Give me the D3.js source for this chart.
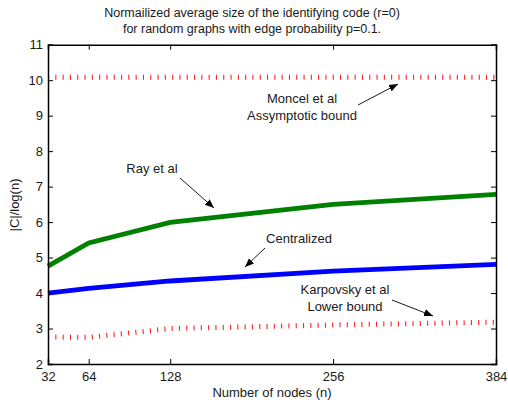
<!DOCTYPE html>
<html><head><meta charset="utf-8">
<script src="https://cdn.jsdelivr.net/npm/d3@7"></script>
<style>
body{margin:0;background:#fff;}
text{font-family:"Liberation Sans",Arial,Helvetica,sans-serif;fill:#1a1a1a;}
</style></head>
<body><svg id="c" width="508" height="403"></svg>
<script>
const nodes = [32, 64, 128, 256, 384];
const rayEtAl = [4.76, 5.41, 5.99, 6.5, 6.78];
const centralized = [4.0, 4.13, 4.34, 4.62, 4.81];
const karpovsky = [2.76, 2.75, 3.0, 3.1, 3.18];
const moncel = [10.08, 10.08, 10.08, 10.08, 10.08];
const xTicks = [32, 64, 128, 256, 384];
const yTicks = [2, 3, 4, 5, 6, 7, 8, 9, 10, 11];
const titleLines = ["Normailized average size of the identifying code (r=0)", "for random graphs with edge probability p=0.1."];
const annotations = [
  {lines:["Moncel et al","Assymptotic bound"], tx:302, ty:103, from:[358,105], to:[398,84]},
  {lines:["Ray et al"], tx:152, ty:173, from:[180,178], to:[214,208]},
  {lines:["Centralized"], tx:299, ty:243, from:[265,248], to:[245,267]},
  {lines:["Karpovsky et al","Lower bound"], tx:345, ty:294, from:[392,300], to:[433,316]}
];

const svg = d3.select("#c");
const L = 48, R = 496, T = 44.7, B = 364;
const x = d3.scaleLinear().domain([32, 384]).range([L, R]);
const y = d3.scaleLinear().domain([2, 11]).range([B, T]);

svg.append("defs").append("marker").attr("id","ah").attr("viewBox","0 0 10 10")
  .attr("refX",10).attr("refY",5).attr("markerWidth",9).attr("markerHeight",9)
  .attr("markerUnits","userSpaceOnUse").attr("orient","auto")
  .append("path").attr("d","M0,1 L10,5 L0,9 Z").attr("fill","#000");

// title
svg.append("text").attr("x",252).attr("text-anchor","middle").attr("font-size",12.5)
  .selectAll("tspan").data(titleLines).join("tspan")
  .attr("x",252).attr("y",(d,i)=>17+i*15.5).text(d=>d);

const line = d3.line().x((d,i)=>x(nodes[i])).y(d=>y(d));
const g = svg.append("g");
g.append("path").datum(moncel).attr("d",line).attr("fill","none").attr("stroke","#ff2020")
  .attr("stroke-width",5).attr("stroke-dasharray","1.1 6.2");
g.append("path").datum(karpovsky).attr("d",line).attr("fill","none").attr("stroke","#ff2020")
  .attr("stroke-width",5).attr("stroke-dasharray","1.1 6.2");
g.append("path").datum(rayEtAl).attr("d",line).attr("fill","none").attr("stroke","#008000")
  .attr("stroke-width",4.8);
g.append("path").datum(centralized).attr("d",line).attr("fill","none").attr("stroke","#0000ff")
  .attr("stroke-width",4.8);

// axes
const tl = 5;
const ax = svg.append("g").attr("transform",`translate(0,${B})`)
  .call(d3.axisBottom(x).tickValues(xTicks).tickSize(-tl).tickPadding(8).tickFormat(d3.format("d")));
const axT = svg.append("g").attr("transform",`translate(0,${T})`)
  .call(d3.axisTop(x).tickValues(xTicks).tickSize(-tl).tickFormat(""));
const ay = svg.append("g").attr("transform",`translate(${L},0)`)
  .call(d3.axisLeft(y).tickValues(yTicks).tickSize(-tl).tickPadding(5).tickFormat(d3.format("d")));
const ayR = svg.append("g").attr("transform",`translate(${R},0)`)
  .call(d3.axisRight(y).tickValues(yTicks).tickSize(-tl).tickFormat(""));
[ax,axT,ay,ayR].forEach(a=>{
  a.select(".domain").attr("stroke","#000").attr("stroke-width",1.5);
  a.selectAll(".tick line").attr("stroke","#000").attr("stroke-width",1);
  a.selectAll("text").attr("font-size",13).attr("fill","#1a1a1a").attr("font-family","Liberation Sans, Arial, sans-serif");
});

// axis labels
svg.append("text").attr("x",272).attr("y",397).attr("text-anchor","middle").attr("font-size",13)
  .text("Number of nodes (n)");
svg.append("text").attr("transform","translate(19,205) rotate(-90)").attr("text-anchor","middle")
  .attr("font-size",13).text("|C|/log(n)");

// annotations
annotations.forEach(a=>{
  const t = svg.append("text").attr("text-anchor","middle").attr("font-size",13);
  t.selectAll("tspan").data(a.lines).join("tspan").attr("x",a.tx).attr("y",(d,i)=>a.ty+i*16.5).text(d=>d);
  svg.append("line").attr("x1",a.from[0]).attr("y1",a.from[1]).attr("x2",a.to[0]).attr("y2",a.to[1])
    .attr("stroke","#000").attr("stroke-width",0.9).attr("marker-end","url(#ah)");
});
</script></body></html>
